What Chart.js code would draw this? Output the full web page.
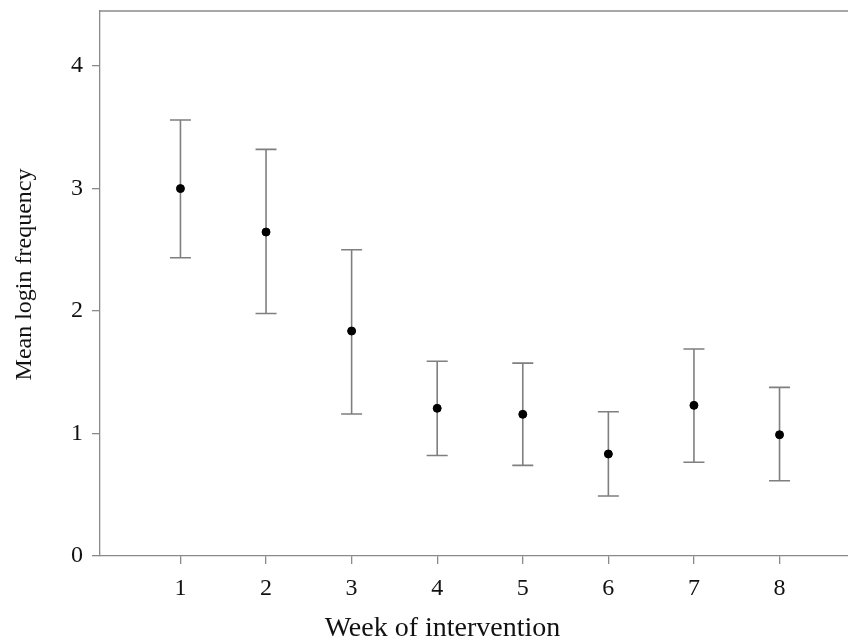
<!DOCTYPE html>
<html>
<head>
<meta charset="utf-8">
<script src="https://cdn.jsdelivr.net/npm/chart.js@4.4.0/dist/chart.umd.min.js"></script>
<style>
  html, body { margin: 0; padding: 0; background: #fff; }
  #grafico { display: block; }
</style>
</head>
<body>
<canvas id="grafico" width="848" height="641"></canvas>
<script>
// datos
const semanas = [1, 2, 3, 4, 5, 6, 7, 8];
const medias = [3.00, 2.645, 1.837, 1.206, 1.157, 0.833, 1.23, 0.99];
const superior = [3.56, 3.32, 2.50, 1.59, 1.575, 1.178, 1.69, 1.377];
const inferior = [2.435, 1.98, 1.16, 0.82, 0.74, 0.49, 0.765, 0.615];
const ticksX = [1, 2, 3, 4, 5, 6, 7, 8];
const ticksY = [0, 1, 2, 3, 4];

const colorEje = "#8a8a8a";
const colorBarra = "#7f7f7f";
const fuente = "'Liberation Serif', 'Times New Roman', serif";

// dibuja las barras de error y el borde superior
const barrasError = {
    id: "barrasError",
    beforeDatasetsDraw(chart) {
        const ctx = chart.ctx;
        const x = chart.scales.x;
        const y = chart.scales.y;
        const area = chart.chartArea;
        ctx.save();
        ctx.strokeStyle = colorBarra;
        ctx.lineWidth = 1.6;
        semanas.forEach((s, i) => {
            const px = x.getPixelForValue(s);
            const pArriba = y.getPixelForValue(superior[i]);
            const pAbajo = y.getPixelForValue(inferior[i]);
            ctx.beginPath();
            ctx.moveTo(px, pArriba);
            ctx.lineTo(px, pAbajo);
            ctx.moveTo(px - 10.5, pArriba);
            ctx.lineTo(px + 10.5, pArriba);
            ctx.moveTo(px - 10.5, pAbajo);
            ctx.lineTo(px + 10.5, pAbajo);
            ctx.stroke();
        });
        ctx.strokeStyle = colorEje;
        ctx.lineWidth = 1.3;
        ctx.beginPath();
        ctx.moveTo(area.left, area.top);
        ctx.lineTo(area.right, area.top);
        ctx.stroke();
        ctx.restore();
    }
};

const config = {
    type: "scatter",
    data: {
        datasets: [{
            label: "Media",
            data: semanas.map((s, i) => ({ x: s, y: medias[i] })),
            backgroundColor: "#000",
            borderColor: "#000",
            pointRadius: 4,
            pointHoverRadius: 4
        }]
    },
    options: {
        responsive: false,
        animation: false,
        layout: { autoPadding: false, padding: { top: 11, right: 0, left: 0, bottom: 0 } },
        plugins: {
            legend: { display: false },
            tooltip: { enabled: false }
        },
        scales: {
            x: {
                type: "linear",
                min: 0.06,
                max: 8.8,
                afterBuildTicks: scale => { scale.ticks = ticksX.map(v => ({ value: v })); },
                afterFit: scale => { scale.height = 85; },
                grid: { drawOnChartArea: false, tickLength: 8, color: colorEje, lineWidth: 1.3 },
                border: { color: colorEje, width: 1.3 },
                ticks: { color: "#111", padding: 10, font: { family: fuente, size: 24 } },
                title: {
                    display: true,
                    text: "Week of intervention         ",
                    color: "#111",
                    padding: { top: 0, bottom: 0 },
                    font: { family: fuente, size: 28, lineHeight: 0.85 }
                }
            },
            y: {
                min: 0,
                max: 4.45,
                afterBuildTicks: scale => { scale.ticks = ticksY.map(v => ({ value: v })); },
                afterFit: scale => {
                    scale.width = 100;
                    scale.paddingTop = 0;
                },
                grid: { drawOnChartArea: false, tickLength: 8, color: colorEje, lineWidth: 1.3 },
                border: { color: colorEje, width: 1.3 },
                ticks: { color: "#111", padding: 9, font: { family: fuente, size: 24 } },
                title: {
                    display: true,
                    text: "   Mean login frequency",
                    color: "#111",
                    padding: { top: 10, bottom: 0 },
                    font: { family: fuente, size: 24 }
                }
            }
        }
    },
    plugins: [barrasError]
};

new Chart(document.getElementById("grafico"), config);
</script>
</body>
</html>
